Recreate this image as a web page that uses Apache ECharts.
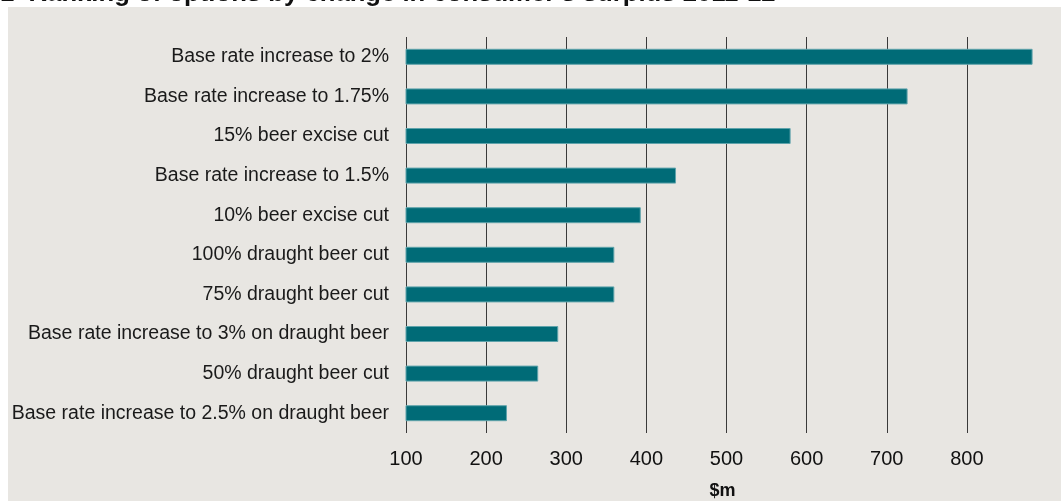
<!DOCTYPE html>
<html>
<head>
<meta charset="utf-8">
<script src="https://cdn.jsdelivr.net/npm/echarts@6/dist/echarts.min.js"></script>
<style>
  html, body { margin: 0; padding: 0; background: #fff; }
  #chart { width: 1061px; height: 501px; }
</style>
</head>
<body>
<div id="chart"></div>
<script>
// options, bottom of chart first (category axis runs bottom-up)
var options = [
    'Base rate increase to 2.5% on draught beer',
    '50% draught beer cut',
    'Base rate increase to 3% on draught beer',
    '75% draught beer cut',
    '100% draught beer cut',
    '10% beer excise cut',
    'Base rate increase to 1.5%',
    '15% beer excise cut',
    'Base rate increase to 1.75%',
    'Base rate increase to 2%'
];
var surplus = [226, 265, 290, 360, 360, 393, 437, 580, 726, 882];

var chart = echarts.init(document.getElementById('chart'));

chart.setOption({
    backgroundColor: '#fff',
    animation: false,
    title: {
        text: '1  Ranking of options by change in consumer\'s surplus 2011-12',
        left: -5,
        top: -24,
        textStyle: {
            fontFamily: 'Liberation Sans',
            fontSize: 25.7,
            fontWeight: 'bold',
            color: '#111'
        }
    },
    graphic: [{
        type: 'rect',
        silent: true,
        z: -10,
        shape: {x: 8, y: 7, width: 1053, height: 494},
        style: {fill: '#e8e6e2'}
    }],
    grid: {
        left: 406,
        top: 37,
        right: 22,
        bottom: 68,
        outerBoundsMode: 'none',
        containLabel: false
    },
    xAxis: {
        type: 'value',
        min: 100,
        max: 890,
        interval: 100,
        name: '$m',
        nameLocation: 'middle',
        nameGap: 49,
        nameTextStyle: {
            fontFamily: 'Liberation Sans',
            fontSize: 18,
            fontWeight: 'bold',
            color: '#111'
        },
        axisLine: {show: false},
        axisTick: {show: false},
        axisLabel: {
            fontFamily: 'Liberation Sans',
            fontSize: 20,
            color: '#111',
            margin: 16,
            showMaxLabel: false
        },
        splitLine: {
            show: true,
            showMaxLine: false,
            lineStyle: {color: '#3a3a3a', width: 1}
        }
    },
    yAxis: {
        type: 'category',
        data: options,
        axisLine: {show: false},
        axisTick: {show: false},
        axisLabel: {
            fontFamily: 'Liberation Sans',
            fontSize: 19.5,
            color: '#1a1a1a',
            margin: 17
        }
    },
    series: [{
        type: 'bar',
        data: surplus,
        barWidth: 16,
        itemStyle: {
            color: '#006b77',
            borderColor: '#5fa3ab',
            borderWidth: 1
        }
    }]
});
</script>
</body>
</html>
